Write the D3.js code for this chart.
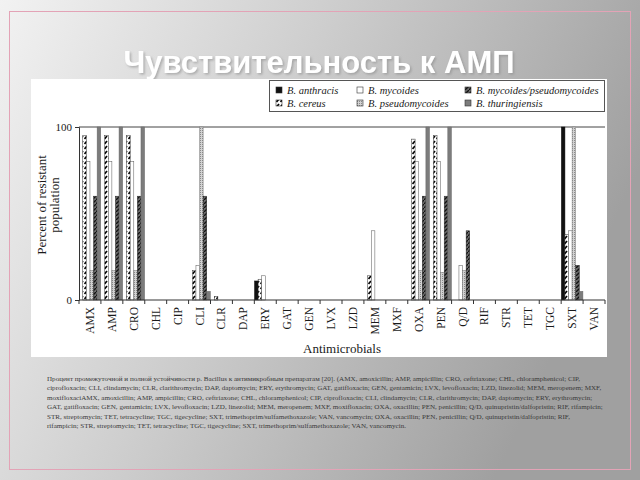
<!DOCTYPE html>
<html>
<head>
<meta charset="utf-8">
<script src="https://cdn.jsdelivr.net/npm/d3@7"></script>
<style>
    body { margin: 0; background: #fff; }
    .serif { font-family: 'Liberation Serif', 'DejaVu Serif', serif; fill: #1a1a1a; }
</style>
</head>
<body>
<div id="slide"></div>
<script>
var categories = ['AMX', 'AMP', 'CRO', 'CHL', 'CIP', 'CLI', 'CLR', 'DAP', 'ERY', 'GAT', 'GEN', 'LVX',
    'LZD', 'MEM', 'MXF', 'OXA', 'PEN', 'Q/D', 'RIF', 'STR', 'TET', 'TGC', 'SXT', 'VAN'];

var species = ['B. anthracis', 'B. cereus', 'B. mycoides', 'B. pseudomycoides',
    'B. mycoides/pseudomycoides', 'B. thuringiensis'];

// percent of resistant population, one value per antimicrobial
var anthracis      = [0, 0, 0, 0, 0, 0, 0, 0, 11, 0, 0, 0, 0, 0, 0, 0, 0, 0, 0, 0, 0, 0, 100, 0];
var cereus         = [95, 95, 95, 0, 0, 17, 2, 0, 12, 0, 0, 0, 0, 14, 0, 93, 95, 0, 0, 0, 0, 0, 38, 0];
var mycoides       = [80, 80, 80, 0, 0, 20, 0, 0, 14, 0, 0, 0, 0, 40, 0, 80, 80, 20, 0, 0, 0, 0, 40, 0];
var pseudomycoides = [17, 17, 17, 0, 0, 100, 0, 0, 0, 0, 0, 0, 0, 0, 0, 17, 16, 17, 0, 0, 0, 0, 100, 0];
var mycPseudo      = [60, 60, 60, 0, 0, 60, 0, 0, 0, 0, 0, 0, 0, 0, 0, 60, 60, 40, 0, 0, 0, 0, 20, 0];
var thuringiensis  = [100, 100, 100, 0, 0, 5, 0, 0, 0, 0, 0, 0, 0, 0, 0, 100, 100, 0, 0, 0, 0, 0, 5, 0];

var yTicks = [0, 100];

var title = 'Чувствительность к АМП';
var yLabel = ['Percent of resistant', 'population'];
var xLabel = 'Antimicrobials';

var captionLines = [
    'Процент промежуточной и полной устойчивости р. Bacillus к антимикробным препаратам [20]. (AMX, amoxicillin; AMP, ampicillin; CRO, ceftriaxone; CHL, chloramphenicol; CIP,',
    'ciprofloxacin; CLI, clindamycin; CLR, clarithromycin; DAP, daptomycin; ERY, erythromycin; GAT, gatifloxacin; GEN, gentamicin; LVX, levofloxacin; LZD, linezolid; MEM, meropenem; MXF,',
    'moxifloxaciAMX, amoxicillin; AMP, ampicillin; CRO, ceftriaxone; CHL, chloramphenicol; CIP, ciprofloxacin; CLI, clindamycin; CLR, clarithromycin; DAP, daptomycin; ERY, erythromycin;',
    'GAT, gatifloxacin; GEN, gentamicin; LVX, levofloxacin; LZD, linezolid; MEM, meropenem; MXF, moxifloxacin; OXA, oxacillin; PEN, penicillin; Q/D, quinupristin/dalfopristin; RIF, rifampicin;',
    'STR, streptomycin; TET, tetracycline; TGC, tigecycline; SXT, trimethoprim/sulfamethoxazole; VAN, vancomycin; OXA, oxacillin; PEN, penicillin; Q/D, quinupristin/dalfopristin; RIF,',
    'rifampicin; STR, streptomycin; TET, tetracycline; TGC, tigecycline; SXT, trimethoprim/sulfamethoxazole; VAN, vancomycin.'
];

var seriesValues = [anthracis, cereus, mycoides, pseudomycoides, mycPseudo, thuringiensis];

var width = 640,
    height = 480,
    plot = {left: 79, right: 605, top: 127, bottom: 300};

var svg = d3.select('#slide')
    .append('svg')
    .attr('width', width)
    .attr('height', height);

var defs = svg.append('defs');

var bg = defs.append('linearGradient')
    .attr('id', 'bg')
    .attr('x1', 0).attr('y1', 0)
    .attr('x2', 1).attr('y2', 0.35);
bg.append('stop').attr('offset', '0%').attr('stop-color', '#f2f2f2');
bg.append('stop').attr('offset', '45%').attr('stop-color', '#cfcfcf');
bg.append('stop').attr('offset', '100%').attr('stop-color', '#a0a0a0');

var shadow = defs.append('filter').attr('id', 'shadow')
    .attr('x', '-10%').attr('y', '-30%').attr('width', '120%').attr('height', '160%');
shadow.append('feDropShadow')
    .attr('dx', 1.5).attr('dy', 1.5)
    .attr('stdDeviation', 1.2)
    .attr('flood-color', '#888')
    .attr('flood-opacity', 0.6);

// bar fills
var pCereus = defs.append('pattern').attr('id', 'p-cereus')
    .attr('patternUnits', 'userSpaceOnUse').attr('width', 4).attr('height', 5);
pCereus.append('rect').attr('width', 4).attr('height', 5).attr('fill', '#fff');
pCereus.append('path').attr('d', 'M0.5,4 L3,1').attr('stroke', '#000').attr('stroke-width', 1.7);

var pPseudo = defs.append('pattern').attr('id', 'p-pseudo')
    .attr('patternUnits', 'userSpaceOnUse').attr('width', 2).attr('height', 2);
pPseudo.append('rect').attr('width', 2).attr('height', 2).attr('fill', '#d2d2d2');
pPseudo.append('rect').attr('width', 1).attr('height', 1).attr('fill', '#8a8a8a');

var pMycPseudo = defs.append('pattern').attr('id', 'p-mycpseudo')
    .attr('patternUnits', 'userSpaceOnUse').attr('width', 4).attr('height', 4);
pMycPseudo.append('rect').attr('width', 4).attr('height', 4).attr('fill', '#6a6a6a');
pMycPseudo.append('path').attr('d', 'M0,4 L4,0').attr('stroke', '#111').attr('stroke-width', 1.3);

var fills = ['#111', 'url(#p-cereus)', '#fff', 'url(#p-pseudo)', 'url(#p-mycpseudo)', '#7c7c7c'];
var strokes = ['#111', '#333', '#555', '#777', '#222', '#666'];

// slide
svg.append('rect')
    .attr('width', width)
    .attr('height', height)
    .attr('fill', 'url(#bg)');

svg.append('rect')
    .attr('x', 9.5).attr('y', 11.5)
    .attr('width', 621).attr('height', 458)
    .attr('fill', 'none')
    .attr('stroke', '#e3a3b6')
    .attr('stroke-width', 1);

svg.append('text')
    .attr('x', 319)
    .attr('y', 73)
    .attr('text-anchor', 'middle')
    .style('font-family', "'Liberation Sans', Arial, sans-serif")
    .style('font-weight', 'bold')
    .style('font-size', '31px')
    .style('fill', '#fff')
    .attr('filter', 'url(#shadow)')
    .text(title);

// chart picture
svg.append('rect')
    .attr('x', 31).attr('y', 79)
    .attr('width', 576).attr('height', 278)
    .attr('fill', '#fff');

var xScale = d3.scaleBand()
    .domain(categories)
    .range([plot.left, plot.right]);

var subScale = d3.scaleBand()
    .domain(d3.range(species.length))
    .range([0, xScale.bandwidth()])
    .paddingOuter(0.05);

var yScale = d3.scaleLinear()
    .domain([0, 100])
    .range([plot.bottom, plot.top]);

var g = svg.append('g');

// top frame line
g.append('line')
    .attr('x1', plot.left).attr('x2', plot.right)
    .attr('y1', plot.top).attr('y2', plot.top)
    .attr('stroke', '#444');

var bars = [];
seriesValues.forEach(function (vals, s) {
    vals.forEach(function (v, i) {
        if (v > 0) bars.push({cat: categories[i], s: s, v: v});
    });
});

g.append('g')
    .selectAll('rect')
    .data(bars)
    .enter()
    .append('rect')
    .attr('x', function (d) { return xScale(d.cat) + subScale(d.s); })
    .attr('y', function (d) { return yScale(d.v); })
    .attr('width', subScale.bandwidth())
    .attr('height', function (d) { return yScale(0) - yScale(d.v); })
    .attr('fill', function (d) { return fills[d.s]; })
    .attr('stroke', function (d) { return strokes[d.s]; })
    .attr('stroke-width', 0.5);

// x axis: labels at band centres, ticks at band edges
var xAxis = g.append('g')
    .attr('transform', 'translate(0,' + plot.bottom + ')')
    .call(d3.axisBottom(xScale).tickSize(0).tickPadding(0));
xAxis.select('.domain').attr('stroke', '#333').attr('d', 'M' + plot.left + ',0H' + plot.right);
xAxis.selectAll('.tick text')
    .attr('class', 'serif')
    .style('font-size', '11.5px')
    .attr('text-anchor', 'end')
    .attr('transform', 'rotate(-90)')
    .attr('x', -7)
    .attr('y', 0)
    .attr('dy', '0.35em');

xAxis.selectAll('.edge')
    .data(categories.concat(['end']))
    .enter()
    .append('line')
    .attr('x1', function (d) { return d === 'end' ? plot.right : xScale(d); })
    .attr('x2', function (d) { return d === 'end' ? plot.right : xScale(d); })
    .attr('y1', 0)
    .attr('y2', 4)
    .attr('stroke', '#333');

// y axis
var yAxis = g.append('g')
    .attr('transform', 'translate(' + plot.left + ',0)')
    .call(d3.axisLeft(yScale).tickValues(yTicks).tickSize(4).tickPadding(3));
yAxis.select('.domain').attr('stroke', '#333');
yAxis.selectAll('.tick line').attr('stroke', '#333');
yAxis.selectAll('.tick text')
    .attr('class', 'serif')
    .style('font-size', '11px');

g.append('text')
    .attr('class', 'serif')
    .attr('transform', 'translate(' + (plot.left + plot.right) / 2 + ',353)')
    .attr('text-anchor', 'middle')
    .style('font-size', '13px')
    .text(xLabel);

g.selectAll('.ylabel')
    .data(yLabel)
    .enter()
    .append('text')
    .attr('class', 'serif')
    .attr('text-anchor', 'middle')
    .attr('transform', function (d, i) { return 'translate(' + (46 + i * 13) + ',205) rotate(-90)'; })
    .style('font-size', '13px')
    .text(function (d) { return d; });

// legend
var legend = svg.append('g');
legend.append('rect')
    .attr('x', 269.5).attr('y', 80.5)
    .attr('width', 335).attr('height', 31)
    .attr('fill', '#fff')
    .attr('stroke', '#555');

var legendCols = [276, 357, 465];
var items = legend.selectAll('.item')
    .data(species)
    .enter()
    .append('g')
    .attr('transform', function (d, i) {
        return 'translate(' + legendCols[Math.floor(i / 2)] + ',' + (90 + (i % 2) * 13) + ')';
    });
items.append('rect')
    .attr('x', 0).attr('y', -3)
    .attr('width', 6).attr('height', 6)
    .attr('fill', function (d, i) { return fills[i]; })
    .attr('stroke', '#333')
    .attr('stroke-width', 0.6);
items.append('text')
    .attr('class', 'serif')
    .attr('x', 11)
    .attr('dy', '0.35em')
    .style('font-size', '10.5px')
    .style('font-style', 'italic')
    .text(function (d) { return d; });

// caption under the picture
var caption = svg.append('g')
    .attr('class', 'serif')
    .style('font-size', '10px');
var lines = caption.selectAll('text')
    .data(captionLines)
    .enter()
    .append('text')
    .attr('x', 47)
    .attr('y', function (d, i) { return 381 + i * 9.4; })
    .style('fill', '#3a3a3a')
    .text(function (d) { return d; });
var longest = d3.max(lines.nodes(), function (n) { return n.getComputedTextLength(); });
caption.style('font-size', (10 * 556 / longest) + 'px');
</script>
</body>
</html>
